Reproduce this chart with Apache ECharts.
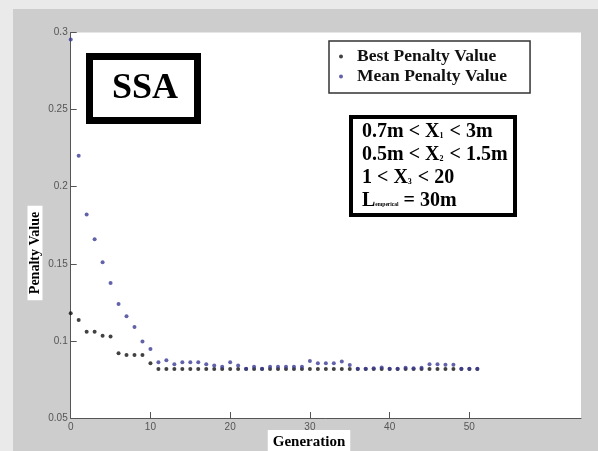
<!DOCTYPE html>
<html>
<head>
<meta charset="utf-8">
<script src="https://cdn.jsdelivr.net/npm/echarts@6/dist/echarts.min.js"></script>
<style>
  html, body { margin: 0; padding: 0; background: #eaeaea; width: 598px; height: 451px; overflow: hidden; }
  #chart { position: absolute; left: 13px; top: 9px; width: 585px; height: 442px; }
</style>
</head>
<body>
<div id="chart"></div>
<script>
const generations = [0,1,2,3,4,5,6,7,8,9,10,11,12,13,14,15,16,17,18,19,20,21,22,23,24,25,26,27,28,29,30,31,32,33,34,35,36,37,38,39,40,41,42,43,44,45,46,47,48,49,50,51];
const bestPenalty = [0.118,0.1136,0.106,0.106,0.1033,0.1028,0.092,0.0909,0.0909,0.0909,0.0855,
  0.0818,0.0818,0.0818,0.0818,0.0818,0.0818,0.0818,0.0818,0.0818,0.0818,
  0.0818,0.0818,0.0818,0.0818,0.0818,0.0818,0.0818,0.0818,0.0818,0.0818,
  0.0818,0.0818,0.0818,0.0818,0.0818,0.0818,0.0818,0.0818,0.0818,0.0818,
  0.0818,0.0818,0.0818,0.0818,0.0818,0.0818,0.0818,0.0818,0.0818,0.0818,0.0818];
const meanPenalty = [0.2955,0.220,0.182,0.166,0.151,0.1375,0.124,0.116,0.109,0.0996,0.0948,
  0.0862,0.0875,0.0849,0.0862,0.0862,0.0862,0.0849,0.0840,0.0833,0.0862,
  0.0840,0.0820,0.0833,0.0820,0.0833,0.0833,0.0833,0.0833,0.0833,0.0870,
  0.0855,0.0855,0.0855,0.0866,0.0844,0.0820,0.0820,0.0822,0.0828,0.0820,
  0.0820,0.0826,0.0822,0.0826,0.0849,0.0849,0.0845,0.0845,0.0820,0.0820,0.0820];
const xTickValues = [0,10,20,30,40,50];
const yTickValues = [0.05,0.1,0.15,0.2,0.25,0.3];
const seriesNames = ['Best Penalty Value','Mean Penalty Value'];
const xAxisTitle = 'Generation';
const yAxisTitle = 'Penalty Value';
const titleBoxText = 'SSA';

const chart = echarts.init(document.getElementById('chart'), null, {renderer: 'canvas'});
const serif = '"Liberation Serif", "Times New Roman", serif';
const tickFont = { color: '#555555', fontSize: 10, fontFamily: '"Liberation Sans", Arial, sans-serif' };

chart.setOption({
  backgroundColor: '#cdcdcd',
  animation: false,
  grid: { left: 57.7, right: 17, top: 23.5, bottom: 33, show: true, backgroundColor: '#ffffff', borderWidth: 0 },
  xAxis: {
    type: 'value', min: 0, max: 64, interval: 10,
    axisLine: { show: true, onZero: false, lineStyle: { color: '#555', width: 1 } },
    axisTick: { show: true, inside: true, length: 6, lineStyle: { color: '#555' }, customValues: xTickValues },
    axisLabel: Object.assign({ margin: 4, customValues: xTickValues }, tickFont),
    splitLine: { show: false }
  },
  yAxis: {
    type: 'value', min: 0.05, max: 0.3, interval: 0.05,
    axisLine: { show: true, onZero: false, lineStyle: { color: '#555', width: 1 } },
    axisTick: { show: true, inside: true, length: 6, lineStyle: { color: '#555' }, customValues: yTickValues },
    axisLabel: Object.assign({ margin: 3, customValues: yTickValues, formatter: v => String(+v.toFixed(2)) }, tickFont),
    splitLine: { show: false }
  },
  legend: {
    orient: 'vertical', left: 316, top: 32,
    padding: [6.5, 23, 7.5, 10], itemGap: 2,
    backgroundColor: '#ffffff', borderColor: '#333', borderWidth: 1.5,
    icon: 'circle', itemWidth: 4, itemHeight: 4,
    textStyle: { fontFamily: serif, fontWeight: 'bold', fontSize: 17.5, color: '#111', padding: [0, 0, 0, 9], lineHeight: 17 },
    data: seriesNames
  },
  series: [
    { name: seriesNames[0], type: 'scatter', symbol: 'circle', symbolSize: 4,
      itemStyle: { color: '#111111' },
      data: generations.map((g, i) => [g, bestPenalty[i]]) },
    { name: seriesNames[1], type: 'scatter', symbol: 'circle', symbolSize: 4,
      itemStyle: { color: '#3b3b96' },
      data: generations.map((g, i) => [g, meanPenalty[i]]) }
  ],
  graphic: [
    { type: 'rect', shape: { x: 76.5, y: 47.5, width: 108, height: 64 },
      style: { fill: '#fff', stroke: '#000', lineWidth: 7 }, z: 10 },
    { type: 'text', x: 132, y: 80, z: 11,
      style: { text: titleBoxText, fill: '#000', font: 'bold 36px ' + serif, align: 'center', verticalAlign: 'middle' } },
    { type: 'rect', shape: { x: 338, y: 108, width: 164, height: 98 },
      style: { fill: '#fff', stroke: '#000', lineWidth: 4 }, z: 10 },
    { type: 'text', x: 349, y: 111, z: 11,
      style: {
        text: '{b|0.7m < X}{s|1}{b| < 3m}\n{b|0.5m < X}{s|2}{b| < 1.5m}\n{b|1 < X}{s|3}{b| < 20}\n{b|L}{t|emperical}{b| = 30m}',
        align: 'left', verticalAlign: 'top',
        rich: {
          b: { fontFamily: serif, fontWeight: 'bold', fontSize: 20, lineHeight: 23, fill: '#000', color: '#000' },
          s: { fontFamily: serif, fontWeight: 'bold', fontSize: 8, verticalAlign: 'bottom', fill: '#000', color: '#000', padding: [0, 1, 3, 0] },
          t: { fontFamily: serif, fontWeight: 'bold', fontSize: 5.5, verticalAlign: 'bottom', fill: '#000', color: '#000', padding: [0, 0, 4, 0] }
        }
      } },
    { type: 'text', x: 22, y: 244, rotation: Math.PI / 2, z: 11,
      style: { text: yAxisTitle, fill: '#000', font: 'bold 14px ' + serif, align: 'center', verticalAlign: 'middle',
        backgroundColor: '#fff', padding: [1, 6, 0, 6] } },
    { type: 'text', x: 296, y: 433, z: 11,
      style: { text: xAxisTitle, fill: '#000', font: 'bold 15px ' + serif, align: 'center', verticalAlign: 'middle',
        backgroundColor: '#fff', padding: [3, 5, 6, 5] } }
  ]
});
</script>
</body>
</html>
